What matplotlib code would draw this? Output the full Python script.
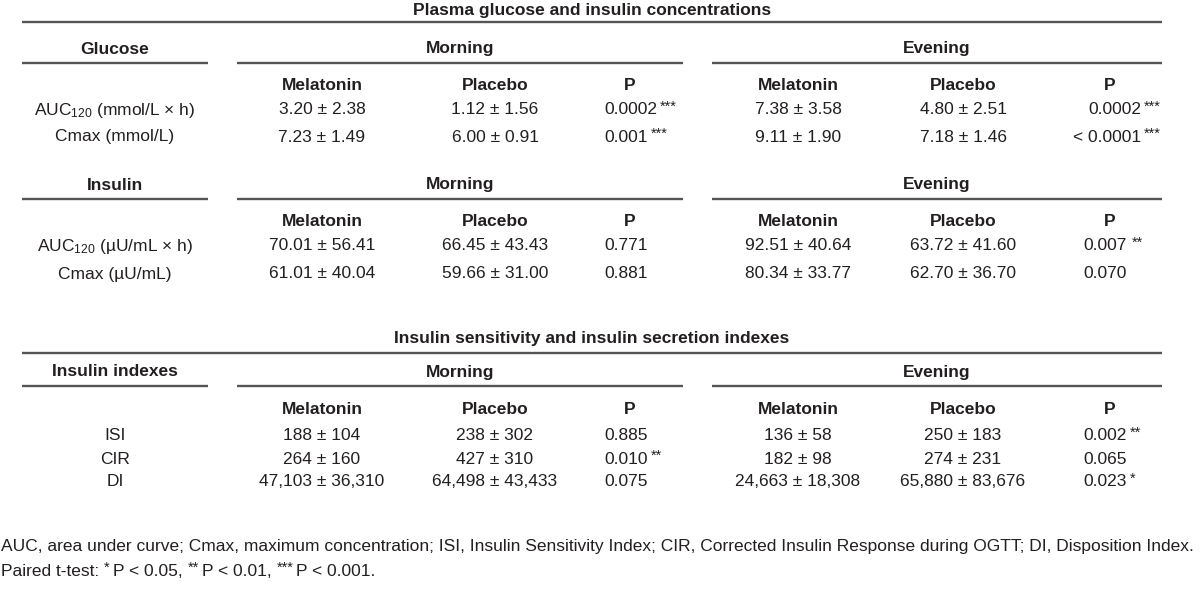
import matplotlib
matplotlib.use("Agg")
import matplotlib.pyplot as plt

# ---- table contents ----
title_1 = "Plasma glucose and insulin concentrations"
title_3 = "Insulin sensitivity and insulin secretion indexes"
periods = ["Morning", "Evening"]
subheads = ["Melatonin", "Placebo", "P"]

glucose_rows = ["AUC$_{120}$ (mmol/L × h)", "Cmax (mmol/L)"]
glucose_m_mel = ["3.20 ± 2.38", "7.23 ± 1.49"]
glucose_m_pla = ["1.12 ± 1.56", "6.00 ± 0.91"]
glucose_m_p = ["0.0002***", "0.001***"]
glucose_e_mel = ["7.38 ± 3.58", "9.11 ± 1.90"]
glucose_e_pla = ["4.80 ± 2.51", "7.18 ± 1.46"]
glucose_e_p = ["0.0002***", "< 0.0001***"]

insulin_rows = ["AUC$_{120}$ (µU/mL × h)", "Cmax (µU/mL)"]
insulin_m_mel = ["70.01 ± 56.41", "61.01 ± 40.04"]
insulin_m_pla = ["66.45 ± 43.43", "59.66 ± 31.00"]
insulin_m_p = ["0.771", "0.881"]
insulin_e_mel = ["92.51 ± 40.64", "80.34 ± 33.77"]
insulin_e_pla = ["63.72 ± 41.60", "62.70 ± 36.70"]
insulin_e_p = ["0.007 **", "0.070"]

index_rows = ["ISI", "CIR", "DI"]
index_m_mel = ["188 ± 104", "264 ± 160", "47,103 ± 36,310"]
index_m_pla = ["238 ± 302", "427 ± 310", "64,498 ± 43,433"]
index_m_p = ["0.885", "0.010**", "0.075"]
index_e_mel = ["136 ± 58", "182 ± 98", "24,663 ± 18,308"]
index_e_pla = ["250 ± 183", "274 ± 231", "65,880 ± 83,676"]
index_e_p = ["0.002**", "0.065", "0.023*"]

footnote_1 = ("AUC, area under curve; Cmax, maximum concentration; ISI, Insulin Sensitivity Index; "
              "CIR, Corrected Insulin Response during OGTT; DI, Disposition Index.")
footnote_2 = [("Paired t-test:", False), ("*", True), ("P < 0.05,", False), ("**", True),
              ("P < 0.01,", False), ("***", True), ("P < 0.001.", False)]

plt.rcParams["font.family"] = ["Liberation Sans", "DejaVu Sans"]
plt.rcParams["mathtext.fontset"] = "custom"
plt.rcParams["mathtext.rm"] = "Liberation Sans"
plt.rcParams["mathtext.it"] = "Liberation Sans"
plt.rcParams["mathtext.default"] = "regular"

TXT = "#231f20"
LINE = "#555555"
FS = 12.5
STAR_FS = 10.5

fig = plt.figure(figsize=(12, 5.9), dpi=100)
ax = fig.add_axes([0, 0, 1, 1])
ax.set_xlim(0, 1200)
ax.set_ylim(590, 0)
ax.axis("off")
renderer = fig.canvas.get_renderer()

stub_x = 115
col_x = [322, 495, 604, 798, 963, 1083]


def hline(y, x0, x1):
    ax.plot([x0, x1], [y, y], color=LINE, lw=1.7, solid_capstyle="butt")


def txt(x, y, s, bold=False, ha="center", size=FS):
    return ax.text(x, y, s, ha=ha, va="center", fontsize=size, color=TXT,
                   fontweight="bold" if bold else "normal")


def runs(x, y, parts, ha="left", gap_in=3, gap_out=3):
    # plain text pieces and small raised asterisks placed one after another
    base = y + 4.5
    arts = []
    cur = x
    for k, (s, star) in enumerate(parts):
        if k > 0:
            cur += gap_in if star else gap_out
        t = ax.text(cur, base - (3.5 if star else 0), s, ha="left", va="baseline",
                    fontsize=STAR_FS if star else FS, color=TXT)
        cur += t.get_window_extent(renderer).width
        arts.append(t)
    if ha == "right":
        shift = x - cur
        for t in arts:
            px, py = t.get_position()
            t.set_position((px + shift, py))


def pcell(x, y, s, ha="left"):
    n = len(s) - len(s.rstrip("*"))
    if n == 0:
        txt(x, y, s, ha=ha)
        return
    gap = 5 if " " in s[:-n][-1:] else 3
    runs(x, y, [(s[:-n].rstrip(), False), (s[-n:], True)], ha=ha, gap_in=gap)


def block(y_head, stub, rows, cols, row_y, p_right=False):
    txt(stub_x, y_head, stub, bold=True)
    txt(460, y_head, periods[0], bold=True)
    txt(937, y_head, periods[1], bold=True)
    yl = y_head + 14
    hline(yl, 22, 208)
    hline(yl, 237, 683)
    hline(yl, 712, 1162)
    ys = yl + 23
    for k, cx in enumerate([322, 495, 630, 798, 963, 1110]):
        txt(cx, ys, subheads[k % 3], bold=True)
    for i, lab in enumerate(rows):
        y = row_y[i]
        txt(stub_x, y, lab)
        for j, c in enumerate(cols):
            if j in (2, 5):
                if j == 5 and p_right:
                    pcell(1161, y, c[i], ha="right")
                else:
                    pcell(col_x[j], y, c[i])
            else:
                txt(col_x[j], y, c[i])


# block 1
txt(592, 10, title_1, bold=True)
hline(22, 22, 1162)
block(49, "Glucose", glucose_rows,
      [glucose_m_mel, glucose_m_pla, glucose_m_p, glucose_e_mel, glucose_e_pla, glucose_e_p],
      [110, 137], p_right=True)

# block 2
block(185, "Insulin", insulin_rows,
      [insulin_m_mel, insulin_m_pla, insulin_m_p, insulin_e_mel, insulin_e_pla, insulin_e_p],
      [246, 274])

# block 3
txt(592, 338, title_3, bold=True)
hline(353, 22, 1162)
block(372, "Insulin indexes", index_rows,
      [index_m_mel, index_m_pla, index_m_p, index_e_mel, index_e_pla, index_e_p],
      [436, 459, 482])

txt(1, 547, footnote_1, ha="left")
runs(1, 571, footnote_2, gap_in=5, gap_out=3)

fig.savefig("out.png", dpi=100, facecolor="white")
